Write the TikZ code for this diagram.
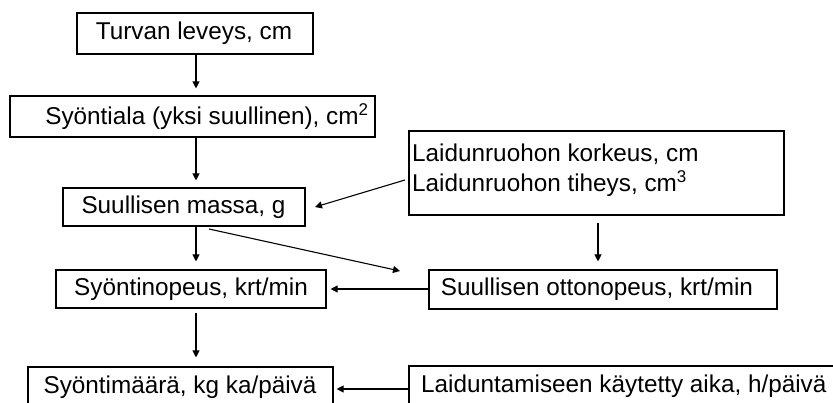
\documentclass[tikz,border=0pt]{standalone}
\usepackage{fontspec}
\setmainfont{Liberation Sans}
\usetikzlibrary{arrows.meta,calc}
\tikzset{
  box/.style={draw=black, line width=1.1pt, rectangle, inner sep=0pt},
  lbl/.style={inner sep=0pt, font=\fontsize{24.3}{27}\selectfont},
  arr/.style={draw=black, line width=1.1pt, -{Triangle[length=7pt,width=7pt]}},
}
\begin{document}
\begin{tikzpicture}[x=1pt,y=-1pt]
\useasboundingbox (0,0) rectangle (833,403);
\clip (0,0) rectangle (833,403);
\fill[white] (0,0) rectangle (833,403);
% boxes
\node[box, minimum width=236pt, minimum height=41pt] (b1) at (195,33.5) {};
\node[box, minimum width=365pt, minimum height=41pt] (b2) at (192.5,116.5) {};
\node[box, minimum width=242pt, minimum height=38pt] (b3) at (184,207) {};
\node[box, minimum width=270pt, minimum height=38pt] (b4) at (191,289) {};
\node[box, minimum width=305pt, minimum height=41pt] (b5) at (180.5,387.5) {};
\node[box, minimum width=375pt, minimum height=84pt] (b6) at (596.5,173) {};
\node[box, minimum width=348pt, minimum height=39pt] (b7) at (603,289.5) {};
\node[box, minimum width=441pt, minimum height=41pt] (b8) at (629.5,386.5) {};
% texts
\node[lbl] (t1) at (194,33.5) {Turvan leveys, cm};
\node[lbl] (t2) at (207,116.5) {Syöntiala (yksi suullinen), cm\textsuperscript{2}};
\node[lbl] (t3) at (183.5,207) {Suullisen massa, g};
\node[lbl] (t4) at (191,289) {Syöntinopeus, krt/min};
\node[lbl] (t5) at (180,387.5) {Syöntimäärä, kg ka/päivä};
\node[lbl, anchor=west] (t6a) at (412,154.5) {Laidunruohon korkeus, cm};
\node[lbl, anchor=west] (t6b) at (412,184) {Laidunruohon tiheys, cm\textsuperscript{3}};
\node[lbl] (t7) at (597,289.5) {Suullisen ottonopeus, krt/min};
\node[lbl, anchor=west] (t8) at (421,386.5) {Laiduntamiseen käytetty aika, h/päivä};
% helper coordinates
\coordinate (d1) at (209,229);
\coordinate (d2) at (400,271);
\coordinate (e1) at (405,180);
\coordinate (e2) at (315,207);
% connectors
\draw[arr, shorten >=7pt] (b1.south -| 196,0) -- (b2.north -| 196,0);
\draw[arr, shorten >=7pt] (b2.south -| 196,0) -- (b3.north -| 196,0);
\draw[arr, shorten >=8pt] (b3.south -| 196,0) -- (b4.north -| 196,0);
\draw[arr, shorten <=4pt, shorten >=9pt] (b4.south -| 196,0) -- (b5.north -| 196,0);
\draw[arr] (e1) -- (e2);
\draw[arr] (d1) -- (d2);
\draw[arr, shorten <=7pt, shorten >=8pt] (b6.south -| 598,0) -- (b7.north -| 598,0);
\draw[arr, shorten >=4pt] (b7.west |- 0,289) -- (b4.east |- 0,289);
\draw[arr, shorten >=3pt] (b8.west |- 0,389) -- (b5.east |- 0,389);
\end{tikzpicture}
\end{document}
